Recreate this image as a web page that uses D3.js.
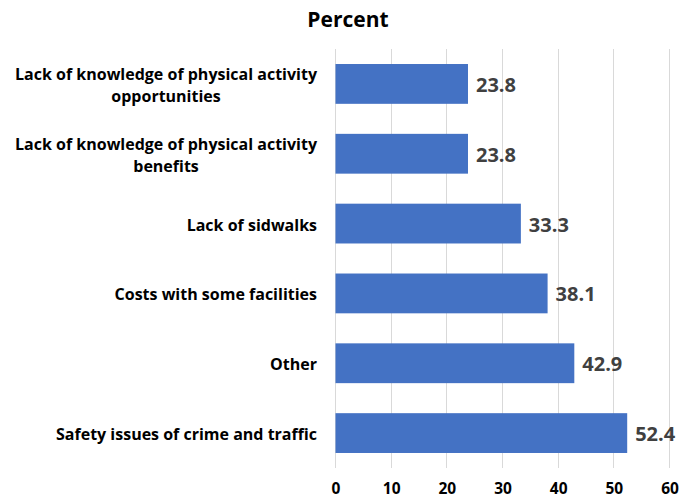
<!DOCTYPE html>
<html><head><meta charset="utf-8">
<script src="https://cdn.jsdelivr.net/npm/d3@7"></script>
<style>body{margin:0;background:#fff}</style>
</head><body>
<svg id="c" width="689" height="499"></svg>
<script>
const categories = [
  ["Lack of knowledge of physical activity", "opportunities"],
  ["Lack of knowledge of physical activity", "benefits"],
  ["Lack of sidwalks"],
  ["Costs with some facilities "],
  ["Other"],
  ["Safety issues of crime and traffic"]
];
const values = [23.8, 23.8, 33.3, 38.1, 42.9, 52.4];
const xTicks = [0, 10, 20, 30, 40, 50, 60];
const title = "Percent";

const svg = d3.select("#c");
const font = "'Open Sans', sans-serif";
const m = {left: 335.5, right: 669.5, top: 49, bottom: 468};
const x = d3.scaleLinear().domain([0, 60]).range([m.left, m.right]);
const y = d3.scaleBand().domain(d3.range(categories.length)).range([m.top, m.bottom]).paddingInner(0.43).paddingOuter(0.215);

svg.append("text").attr("x", 348).attr("y", 27).attr("text-anchor", "middle")
  .attr("font-family", font).attr("font-weight", "bold").attr("font-size", 21).attr("fill", "#000").text(title);

// gridlines
svg.append("g").selectAll("line").data(xTicks).join("line")
  .attr("x1", d => x(d)).attr("x2", d => x(d)).attr("y1", m.top).attr("y2", m.bottom)
  .attr("stroke", "#d9d9d9").attr("stroke-width", 1).attr("shape-rendering", "crispEdges");

// axis labels
const ax = svg.append("g").attr("transform", `translate(0,${m.bottom})`)
  .call(d3.axisBottom(x).tickValues(xTicks).tickSize(0).tickPadding(15));
ax.select(".domain").remove();
ax.selectAll("text").attr("font-family", font).attr("font-weight", "bold").attr("font-size", 15.5).attr("fill", "#000");

// bars
svg.append("g").selectAll("rect").data(values).join("rect")
  .attr("x", x(0)).attr("y", (d, i) => y(i)).attr("height", y.bandwidth())
  .attr("width", d => x(d) - x(0)).attr("fill", "#4472c4");

// value labels
svg.append("g").selectAll("text").data(values).join("text")
  .attr("x", d => x(d) + 8).attr("y", (d, i) => y(i) + y.bandwidth() / 2 + 8)
  .attr("font-family", font).attr("font-weight", "bold").attr("font-size", 20).attr("fill", "#404040")
  .text(d => d.toFixed(1));

// category labels
const cl = svg.append("g");
categories.forEach((lines, i) => {
  const cy = y(i) + y.bandwidth() / 2;
  const lh = 21.5;
  const t = cl.append("text").attr("text-anchor", "middle")
    .attr("font-family", font).attr("font-weight", "bold").attr("font-size", 16).attr("fill", "#000");
  lines.forEach((ln, j) => {
    t.append("tspan").attr("y", cy + (j - (lines.length - 1) / 2) * lh + 7).text(ln);
  });
  const tsp = t.selectAll("tspan").nodes();
  const w = d3.max(tsp.map(n => n.getComputedTextLength()));
  t.selectAll("tspan").attr("x", 317 - w / 2);
});
</script>
</body></html>
